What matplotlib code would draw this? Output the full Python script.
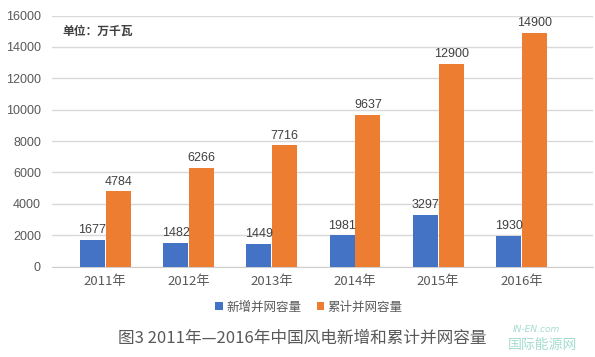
import numpy as np
import matplotlib
matplotlib.use("Agg")
from matplotlib import pyplot as plt

plt.rcParams['font.family'] = ['Noto Sans CJK SC', 'DejaVu Sans']

years = ['2011年', '2012年', '2013年', '2014年', '2015年', '2016年']
new_cap = [1677, 1482, 1449, 1981, 3297, 1930]
total_cap = [4784, 6266, 7716, 9637, 12900, 14900]
yticks = [0, 2000, 4000, 6000, 8000, 10000, 12000, 14000, 16000]

blue = '#4472C4'
orange = '#ED7D31'
grid_c = '#d9d9d9'
text_c = '#595959'
num_font = ['Liberation Sans', 'DejaVu Sans']

fig = plt.figure(figsize=(5.95, 3.57), dpi=100)
ax = fig.add_axes([52 / 595, 1 - 266.5 / 357, (593 - 52) / 595, (266.5 - 15.5) / 357])

x = np.arange(len(years))
w = 0.3
b1 = ax.bar(x - w / 2 - 0.005, new_cap, w, color=blue, zorder=3)
b2 = ax.bar(x + w / 2 + 0.005, total_cap, w, color=orange, zorder=3)

for bars in (b1, b2):
    for r in bars:
        ax.text(r.get_x() + r.get_width() / 2, r.get_height() + 250, f'{int(r.get_height())}',
                ha='center', va='bottom', fontsize=9, color='#404040', family=num_font)

ax.set_xlim(-0.64, 5.86)
ax.set_ylim(0, 16000)
ax.set_yticks(yticks)
ax.set_yticklabels([str(v) for v in yticks], fontsize=9, color=text_c, family=num_font)
ax.set_xticks(x)
ax.set_xticklabels(years, fontsize=9.5, color=text_c)
ax.tick_params(length=0)
ax.tick_params(axis='y', pad=8)
ax.tick_params(axis='x', pad=6)
ax.yaxis.grid(True, color=grid_c, linewidth=1, zorder=0)
for s in ['top', 'right', 'left']:
    ax.spines[s].set_visible(False)
ax.spines['bottom'].set_color('#cfcfcf')

fig.text(62 / 595, 1 - 31 / 357, '单位：万千瓦', fontsize=8.5, fontweight='bold',
         color='#404040', va='center', ha='left')

fig.legend([b1, b2], ['新增并网容量', '累计并网容量'], loc='center',
           bbox_to_anchor=(309 / 595, 1 - 307 / 357), ncol=2, frameon=False,
           fontsize=9, labelcolor=text_c, handlelength=0.6, handleheight=0.6,
           handletextpad=0.3, columnspacing=1.2)

fig.text(118 / 595, 1 - 338 / 357, '图3 2011年—2016年中国风电新增和累计并网容量',
         fontsize=12, color=text_c, va='center', ha='left')

# watermark
fig.text(513 / 595, 1 - 330 / 357, 'IN-EN.com', fontsize=6.5, color='#8ed3c4',
         style='italic', va='center', family='DejaVu Sans', alpha=0.8)
fig.text(508 / 595, 1 - 345 / 357, '国际能源网', fontsize=10, color='#8ed3c4',
         va='center', alpha=0.8)

plt.savefig('out.png', dpi=100)
